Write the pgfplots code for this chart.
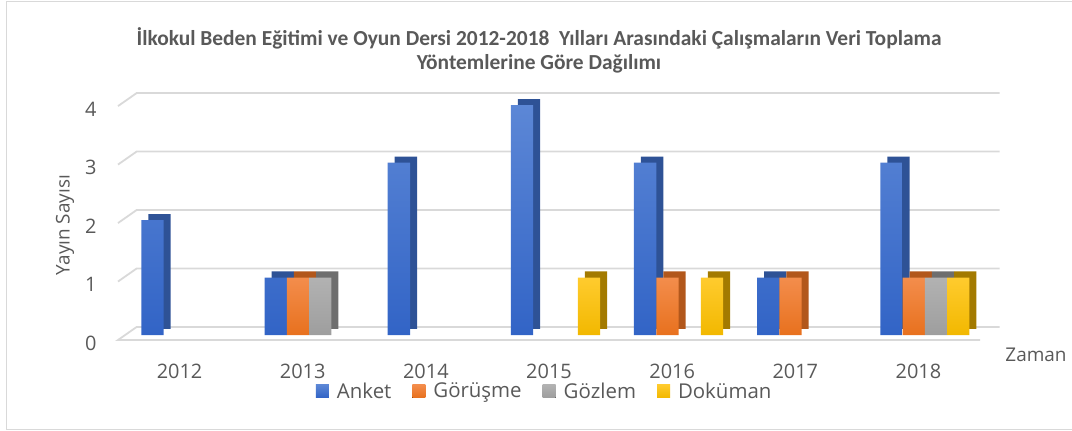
\documentclass[border=0pt]{standalone}
\usepackage{fontspec}
\setmainfont{Open Sans}
\newfontfamily\titlefont{Carlito}
\usepackage{pgfplots}
\usepackage{pgfplotstable}
\pgfplotsset{compat=1.18}
\definecolor{txt}{HTML}{595959}
\definecolor{gridc}{HTML}{D9D9D9}
\definecolor{frame}{HTML}{D9D9D9}
\definecolor{ankT}{HTML}{5C87D6}
\definecolor{ankB}{HTML}{3264C6}
\definecolor{ankS}{HTML}{2E5296}
\definecolor{gorT}{HTML}{F38D4C}
\definecolor{gorB}{HTML}{E8711E}
\definecolor{gorS}{HTML}{B2571B}
\definecolor{gozT}{HTML}{B2B2B2}
\definecolor{gozB}{HTML}{9E9E9E}
\definecolor{gozS}{HTML}{6E6E6E}
\definecolor{dokT}{HTML}{FFCB2E}
\definecolor{dokB}{HTML}{F2B800}
\definecolor{dokS}{HTML}{A37A00}

\pgfplotstableread{
x anket gorusme gozlem dokuman
0 2 0 0 0
1 1 1 1 0
2 3 0 0 0
3 4 0 0 1
4 3 1 0 1
5 1 1 0 0
6 3 1 1 1
}\datatable

\begin{document}
\begin{tikzpicture}
\useasboundingbox (0bp,0bp) rectangle (1072bp,431bp);
\draw[frame, line width=1.2bp] (1080bp,429.5bp) -- (6.5bp,429.5bp) -- (6.5bp,1.5bp) -- (1080bp,1.5bp);
\node[font=\titlefont\bfseries\fontsize{21.5}{24}\selectfont, text=txt, align=center] at (539bp,381bp)
  {İlkokul Beden Eğitimi ve Oyun Dersi 2012-2018\ \ Yılları Arasındaki Çalışmaların Veri Toplama\\Yöntemlerine Göre Dağılımı};
\node[rotate=90, font=\fontsize{19}{23}\selectfont, text=txt] at (65bp,206bp) {Yayın Sayısı};
\node[font=\fontsize{19}{23}\selectfont, text=txt] at (1036bp,76bp) {Zaman};
\begin{axis}[
  at={(118bp,84.5bp)}, anchor=south west,
  scale only axis, width=862bp, height=258.75bp,
  xmin=-0.5, xmax=6.5, ymin=-0.2, ymax=4.3,
  clip=false,
  axis line style={draw=none},
  major tick length=0,
  xtick={0,...,6}, xticklabels={2012,2013,2014,2015,2016,2017,2018},
  ytick={-0.14,0.877,1.894,2.911,3.928}, yticklabels={0,1,2,3,4},
  tick label style={font=\fontsize{20}{24}\selectfont, text=txt},
  xticklabel style={anchor=north, yshift=-14.5bp},
  yticklabel style={anchor=east, xshift=-18bp},
  ybar, bar width=22.3bp,
  y filter/.expression={y==0 ? nan : y},
  unbounded coords=discard,
  legend columns=4,
  legend style={at={(axis description cs:0.495,-0.172)}, anchor=center, draw=none,
     font=\fontsize{20.5}{24}\selectfont, text=txt,
     /tikz/every even column/.append style={column sep=19bp}},
  legend image code/.code={\fill[#1] (0bp,-6.5bp) rectangle (13bp,6.5bp); \path (0bp,0bp) -- (19bp,0bp);},
]
% gridlines (back wall + side stubs)
\foreach \v in {1,2,3,4} {
  \edef\tmp{\noexpand\draw[gridc, line width=1.8bp] (axis cs:-0.5,{-0.087+1.017*\v}) -- (axis cs:-0.349,{0.139+1.017*\v}) -- (axis cs:6.66,{0.139+1.017*\v});}
  \tmp
}
\draw[gridc, line width=1.8bp] (axis cs:6.5,-0.087) -- (axis cs:-0.5,-0.087) -- (axis cs:-0.349,0.139) -- (axis cs:6.66,0.139);

\addplot[forget plot, draw=none, fill=ankS, bar shift=-20bp, yshift=6bp] table[x=x,y=anket]{\datatable};
\addplot[draw=none, top color=ankT, bottom color=ankB, bar shift=-27bp] table[x=x,y=anket]{\datatable};
\addlegendentry{Anket}
\addplot[forget plot, draw=none, fill=gorS, bar shift=2.3bp, yshift=6bp] table[x=x,y=gorusme]{\datatable};
\addplot[draw=none, top color=gorT, bottom color=gorB, bar shift=-4.7bp] table[x=x,y=gorusme]{\datatable};
\addlegendentry{Görüşme}
\addplot[forget plot, draw=none, fill=gozS, bar shift=24.6bp, yshift=6bp] table[x=x,y=gozlem]{\datatable};
\addplot[draw=none, top color=gozT, bottom color=gozB, bar shift=17.6bp] table[x=x,y=gozlem]{\datatable};
\addlegendentry{Gözlem}
\addplot[forget plot, draw=none, fill=dokS, bar shift=46.9bp, yshift=6bp] table[x=x,y=dokuman]{\datatable};
\addplot[draw=none, top color=dokT, bottom color=dokB, bar shift=39.9bp] table[x=x,y=dokuman]{\datatable};
\addlegendentry{Doküman}
\end{axis}
\end{tikzpicture}
\end{document}
